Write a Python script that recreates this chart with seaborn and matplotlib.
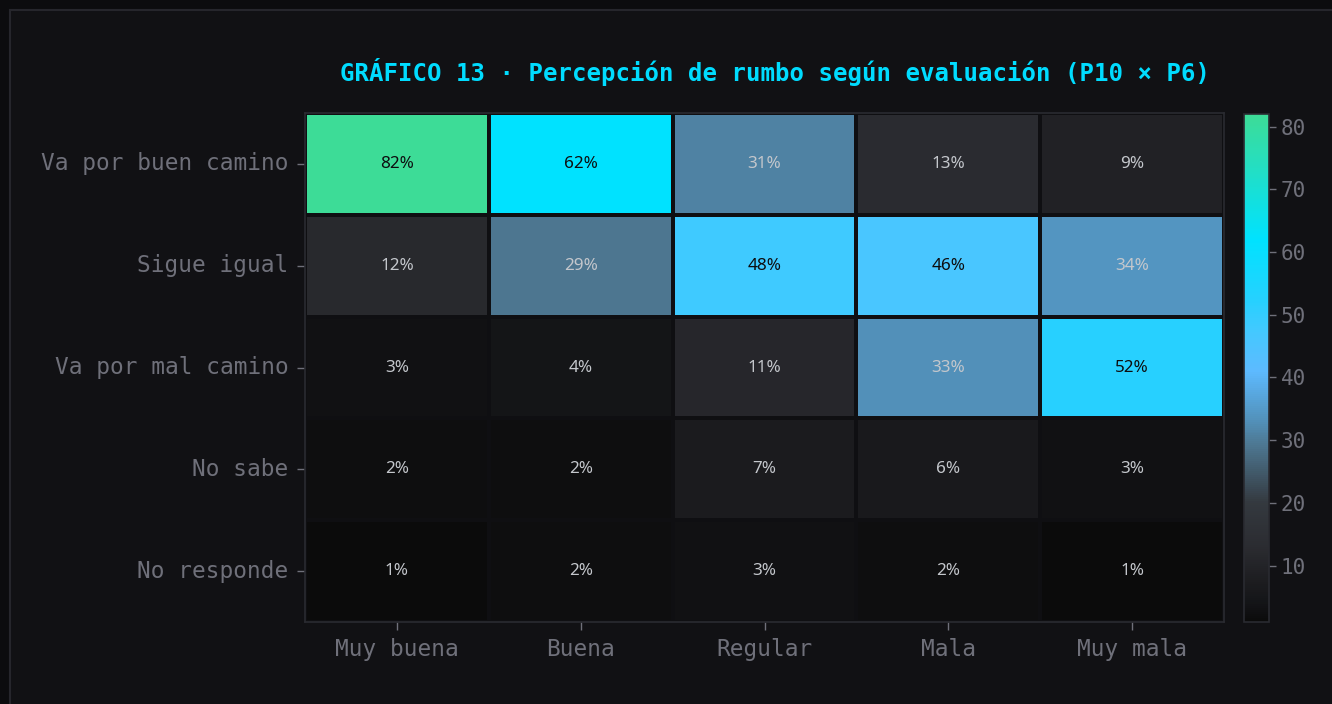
import numpy as np
import pandas as pd
import seaborn as sns
import matplotlib
matplotlib.use("Agg")
import matplotlib.pyplot as plt
from matplotlib.colors import LinearSegmentedColormap
from matplotlib.patches import Rectangle

# ---- data ----
rows = ["Va por buen camino", "Sigue igual", "Va por mal camino", "No sabe", "No responde"]
cols = ["Muy buena", "Buena", "Regular", "Mala", "Muy mala"]
buen_camino = [82, 62, 31, 13, 9]
sigue_igual = [12, 29, 48, 46, 34]
mal_camino = [3, 4, 11, 33, 52]
no_sabe = [2, 2, 7, 6, 3]
no_responde = [1, 2, 3, 2, 1]
title = "GRÁFICO 13 · Percepción de rumbo según evaluación (P10 × P6)"
cbar_ticks = [10, 20, 30, 40, 50, 60, 70, 80]

df = pd.DataFrame([buen_camino, sigue_igual, mal_camino, no_sabe, no_responde],
                  index=rows, columns=cols)
labels = df.map(lambda v: f"{v}%")

BG = "#111114"
OUTER = "#0c0c0e"
FRAME = "#26262c"
TXT = "#6f707a"

vmin, vmax = 1, 82
nodes = [(1, "#0b0b0b"), (4, "#141518"), (7, "#1c1c1f"), (13, "#2b2c31"),
         (20, "#34393f"), (29, "#4d7690"), (33, "#5290b8"), (41, "#5dbaff"),
         (47, "#45c8ff"), (52, "#28d0ff"), (62, "#00e2ff"), (82, "#3ddc97")]
cmap = LinearSegmentedColormap.from_list(
    "rumbo", [((v - vmin) / (vmax - vmin), c) for v, c in nodes])

sns.set_theme(style="dark")
plt.rcParams["font.family"] = ["DejaVu Sans Mono", "DejaVu Sans"]

fig = plt.figure(figsize=(13.32, 7.04), dpi=100, facecolor=OUTER)
bgrect = Rectangle((10 / 1332, -0.1), 1.2, 1 - 10 / 704 + 0.1,
                   transform=fig.transFigure, facecolor=BG,
                   edgecolor=FRAME, linewidth=1.5, zorder=-10)
fig.patches.append(bgrect)

ax = fig.add_axes([305 / 1332, 1 - 622 / 704, (1224 - 305) / 1332, (622 - 113) / 704])
cax = fig.add_axes([1244 / 1332, 1 - 622 / 704, 25 / 1332, (622 - 114) / 704])
ax.set_facecolor(BG)

sns.heatmap(df, ax=ax, cbar_ax=cax, cmap=cmap, vmin=vmin, vmax=vmax,
            annot=labels, fmt="",
            annot_kws={"fontsize": 12.3, "family": ["Noto Sans", "DejaVu Sans"]},
            linewidths=1.5, linecolor="#0f0f12",
            cbar_kws={"ticks": cbar_ticks})

for t in ax.texts:
    val = int(t.get_text().rstrip("%"))
    t.set_color("#0d0d0f" if val >= 45 else "#c4c7cc")

ax.set_xlabel("")
ax.set_ylabel("")
ax.tick_params(axis="both", colors=TXT, labelsize=16.4, length=6, width=1,
               labelcolor=TXT, bottom=True, left=True)
ax.tick_params(axis="x", pad=5.5)
ax.tick_params(axis="y", pad=6)
ax.set_yticklabels(rows, rotation=0)
ax.set_xticklabels(cols, rotation=0)
for s in ax.spines.values():
    s.set_visible(True)
    s.set_color("#2a2b31")
    s.set_linewidth(1.2)

cax.tick_params(colors=TXT, labelsize=15, length=5, width=1, labelcolor=TXT, right=True)
cax.set_facecolor(BG)
cb = ax.collections[0].colorbar
cb.outline.set_edgecolor("#2a2b31")
cb.outline.set_linewidth(1.2)

fig.text(775.5 / 1332, 1 - 72 / 704, title, color="#00dcff", fontsize=17.3,
         fontweight="bold", ha="center", va="center")

fig.savefig("out.png", dpi=100, facecolor=OUTER)
